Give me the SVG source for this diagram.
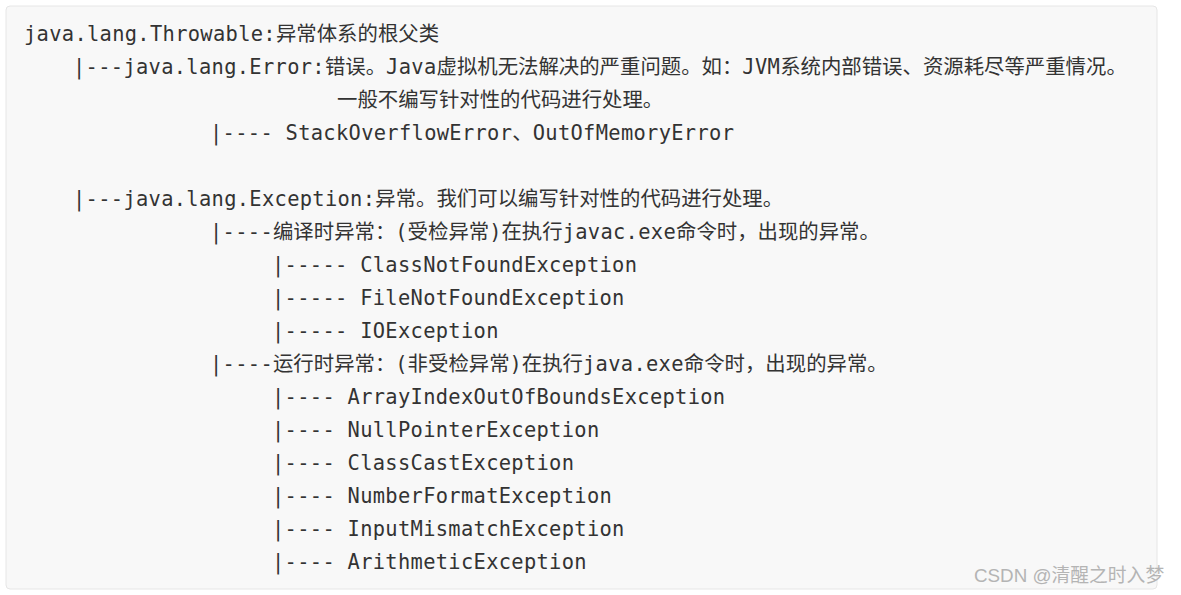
<svg xmlns="http://www.w3.org/2000/svg" width="1181" height="595" viewBox="0 0 1181 595">
<style>
.t{font-family:"DejaVu Sans Mono","Liberation Mono","Noto Sans CJK SC",monospace;font-size:20.4px;fill:#333;letter-spacing:0.32px}
.c{letter-spacing:0}
.wm{font-family:"Liberation Sans","Noto Sans CJK SC",sans-serif;font-size:18.8px;fill:#b4b4b4}
</style>
<rect x="0" y="0" width="1181" height="595" fill="#ffffff"/>
<rect id="codebox" x="6" y="6" width="1151" height="583" rx="4" fill="#f8f8f8" stroke="#e6e6e6" stroke-width="1"/>
<g id="throwable"><text class="t" x="24" y="41">java.lang.Throwable:<tspan class="c">异常体系的根父类</tspan></text></g>
<g id="error"><text class="t" x="73" y="74">|---java.lang.Error:<tspan class="c">错误。</tspan>Java<tspan class="c">虚拟机无法解决的严重问题。如：</tspan>JVM<tspan class="c">系统内部错误、资源耗尽等严重情况。</tspan></text>
<text class="t c" x="337" y="107">一般不编写针对性的代码进行处理。</text></g>
<g id="error-sub"><text class="t" x="210" y="140">|---- StackOverflowError<tspan class="c">、</tspan>OutOfMemoryError</text></g>
<g id="exception"><text class="t" x="73" y="206">|---java.lang.Exception:<tspan class="c">异常。我们可以编写针对性的代码进行处理。</tspan></text></g>
<g id="checked"><text class="t" x="210" y="239">|----<tspan class="c">编译时异常：(受检异常)在执行</tspan>javac.exe<tspan class="c">命令时，出现的异常。</tspan></text>
<text class="t" x="272" y="272">|----- ClassNotFoundException</text>
<text class="t" x="272" y="305">|----- FileNotFoundException</text>
<text class="t" x="272" y="338">|----- IOException</text></g>
<g id="unchecked"><text class="t" x="210" y="371">|----<tspan class="c">运行时异常：(非受检异常)在执行</tspan>java.exe<tspan class="c">命令时，出现的异常。</tspan></text>
<text class="t" x="272" y="404">|---- ArrayIndexOutOfBoundsException</text>
<text class="t" x="272" y="437">|---- NullPointerException</text>
<text class="t" x="272" y="470">|---- ClassCastException</text>
<text class="t" x="272" y="503">|---- NumberFormatException</text>
<text class="t" x="272" y="536">|---- InputMismatchException</text>
<text class="t" x="272" y="569">|---- ArithmeticException</text></g>
<g id="watermark"><text class="wm" x="974" y="582">CSDN @清醒之时入梦</text></g>
</svg>
